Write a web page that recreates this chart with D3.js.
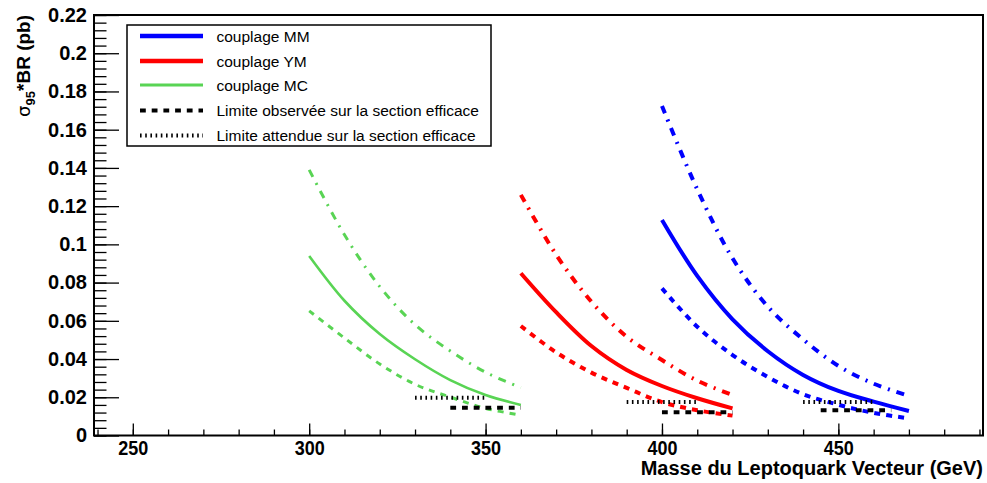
<!DOCTYPE html>
<html><head><meta charset="utf-8">
<script src="https://cdn.jsdelivr.net/npm/d3@7"></script>
<style>
body{margin:0;background:#fff}
svg{display:block}
text{font-family:"Liberation Sans",Arial,Helvetica,sans-serif}
</style>
</head><body>
<svg id="c" width="987" height="483"></svg>
<script>
// ---------- data ----------
const massMC = [300, 310, 320, 330, 340, 350, 360];
const mcCentral = [0.0939, 0.0705, 0.0531, 0.0399, 0.0290, 0.0212, 0.0160];
const mcUpper   = [0.1390, 0.1050, 0.0779, 0.0580, 0.0442, 0.0331, 0.0250];
const mcLower   = [0.0652, 0.0510, 0.0374, 0.0268, 0.0201, 0.0142, 0.0107];

const massYM = [360, 370, 380, 390, 400, 410, 420];
const ymCentral = [0.0849, 0.0645, 0.0468, 0.0343, 0.0259, 0.0195, 0.0142];
const ymUpper   = [0.1259, 0.0946, 0.0700, 0.0517, 0.0395, 0.0287, 0.0212];
const ymLower   = [0.0573, 0.0435, 0.0329, 0.0249, 0.0175, 0.0132, 0.0104];

const massMM = [400, 410, 420, 430, 440, 450, 460, 470];
const mmCentral = [0.1128, 0.0835, 0.0608, 0.0441, 0.0317, 0.0233, 0.0177, 0.0128];
const mmUpper   = [0.1724, 0.1288, 0.0927, 0.0674, 0.0503, 0.0364, 0.0271, 0.0207];
const mmLower   = [0.0770, 0.0569, 0.0421, 0.0306, 0.0216, 0.0161, 0.0118, 0.0090];

const obsStart = [340, 400, 445];
const obsEnd   = [360, 420, 465];
const obsValue = [0.0145, 0.0122, 0.0132];
const expStart = [330, 390, 440];
const expEnd   = [350, 410, 460];
const expValue = [0.0198, 0.0175, 0.0175];

const xTickValues = [250, 300, 350, 400, 450];
const yTickValues = [0, 0.02, 0.04, 0.06, 0.08, 0.1, 0.12, 0.14, 0.16, 0.18, 0.2, 0.22];
const yTickLabels = ["0", "0.02", "0.04", "0.06", "0.08", "0.1", "0.12", "0.14", "0.16", "0.18", "0.2", "0.22"];

const legendLabels = ["couplage MM", "couplage YM", "couplage MC",
  "Limite observée sur la section efficace", "Limite attendue sur la section efficace"];
const xTitle = "Masse du Leptoquark Vecteur (GeV)";

// ---------- layout ----------
const L = 94, R = 983, T = 15, B = 435.5;
const svg = d3.select("#c");
const x = d3.scaleLinear().domain([239, 491]).range([L, R]);
const y = d3.scaleLinear().domain([0, 0.22]).range([B, T]);

const BLUE = "#0000ff", RED = "#ff0000", GREEN = "#59d454";
const DASH = "6,6", DASHDOT = "8,7,2,7";

// ---------- axes ----------
const minorY = d3.range(0, 0.2201, 0.004);
const minorX = d3.range(240, 491, 10);

const gyMinor = svg.append("g").attr("transform", `translate(${L},0)`)
  .call(d3.axisRight(y).tickValues(minorY).tickSize(12.5).tickFormat(""));
gyMinor.select(".domain").remove();

const gy = svg.append("g").attr("transform", `translate(${L},0)`)
  .call(d3.axisLeft(y).tickValues(yTickValues).tickSize(-25).tickPadding(7)
    .tickFormat((d, i) => yTickLabels[i]));
gy.select(".domain").remove();
gy.selectAll("text").attr("font-size", 20).attr("font-weight", "bold")
  .attr("font-family", '"Liberation Sans",Arial,sans-serif').attr("fill", "#000");

const gxMinor = svg.append("g").attr("transform", `translate(0,${B})`)
  .call(d3.axisBottom(x).tickValues(minorX).tickSize(-6).tickFormat(""));
gxMinor.select(".domain").remove();

const gx = svg.append("g").attr("transform", `translate(0,${B})`)
  .call(d3.axisBottom(x).tickValues(xTickValues).tickSize(-12).tickPadding(5)
    .tickFormat(d3.format("d")));
gx.select(".domain").remove();
gx.selectAll("text").attr("font-size", 20).attr("font-weight", "bold")
  .attr("transform", "scale(0.9,1)")
  .attr("font-family", '"Liberation Sans",Arial,sans-serif').attr("fill", "#000");

svg.selectAll(".tick line").attr("stroke", "#000").attr("stroke-width", 1.3);

// frame
svg.append("rect").attr("x", L).attr("y", T).attr("width", R - L).attr("height", B - T)
  .attr("fill", "none").attr("stroke", "#000").attr("stroke-width", 2);

// ---------- curves ----------
const line = d3.line().x(d => x(d[0])).y(d => y(d[1])).curve(d3.curveCatmullRom.alpha(0.5));
function curve(mass, vals, color, width, dash) {
  svg.append("path").datum(mass.map((m, i) => [m, vals[i]]))
    .attr("d", line).attr("fill", "none").attr("stroke", color)
    .attr("stroke-width", width).attr("stroke-dasharray", dash || null);
}
curve(massMC, mcUpper, GREEN, 3, DASHDOT);
curve(massMC, mcCentral, GREEN, 2.6, null);
curve(massMC, mcLower, GREEN, 3, DASH);
curve(massYM, ymUpper, RED, 4, DASHDOT);
curve(massYM, ymCentral, RED, 4, null);
curve(massYM, ymLower, RED, 4, DASH);
curve(massMM, mmUpper, BLUE, 4, DASHDOT);
curve(massMM, mmCentral, BLUE, 4, null);
curve(massMM, mmLower, BLUE, 4, DASH);

// limits
svg.append("g").selectAll("line").data(expValue).join("line")
  .attr("x1", (d, i) => x(expStart[i])).attr("x2", (d, i) => x(expEnd[i]))
  .attr("y1", d => y(d)).attr("y2", d => y(d))
  .attr("stroke", "#000").attr("stroke-width", 4).attr("stroke-dasharray", "1.6,3.6");
svg.append("g").selectAll("line").data(obsValue).join("line")
  .attr("x1", (d, i) => x(obsStart[i])).attr("x2", (d, i) => x(obsEnd[i]))
  .attr("y1", d => y(d)).attr("y2", d => y(d))
  .attr("stroke", "#000").attr("stroke-width", 4).attr("stroke-dasharray", "5.8,5.9");

// ---------- legend ----------
const lg = svg.append("g");
lg.append("rect").attr("x", 127).attr("y", 25).attr("width", 364).attr("height", 121)
  .attr("fill", "#fff").attr("stroke", "#000").attr("stroke-width", 1.5);
const legStyles = [
  {c: BLUE, w: 4.5, d: null},
  {c: RED, w: 4.5, d: null},
  {c: GREEN, w: 3, d: null},
  {c: "#000", w: 4, d: "5.8,5.9"},
  {c: "#000", w: 4, d: "1.6,3.6"}
];
const rowY = [36, 61, 85, 110.5, 135.5];
legendLabels.forEach((t, i) => {
  lg.append("line").attr("x1", 140).attr("x2", 203).attr("y1", rowY[i]).attr("y2", rowY[i])
    .attr("stroke", legStyles[i].c).attr("stroke-width", legStyles[i].w)
    .attr("stroke-dasharray", legStyles[i].d);
  lg.append("text").attr("x", 216.5).attr("y", rowY[i] + 5.5)
    .attr("font-size", 15.5).attr("fill", "#000").text(t);
});

// ---------- titles ----------
svg.append("text").attr("x", R).attr("y", 475).attr("text-anchor", "end")
  .attr("font-size", 20).attr("font-weight", "bold").text(xTitle);

const yt = svg.append("text").attr("transform", `translate(30,${T}) rotate(-90)`)
  .attr("text-anchor", "end").attr("font-size", 19);
yt.append("tspan").attr("font-family", '"DejaVu Sans",sans-serif').attr("font-size", 18).text("σ");
yt.append("tspan").attr("font-weight", "bold").attr("font-size", 13).attr("dy", 5).text("95");
yt.append("tspan").attr("font-weight", "bold").attr("dy", -5).text("*BR (pb)");
</script>
</body></html>
